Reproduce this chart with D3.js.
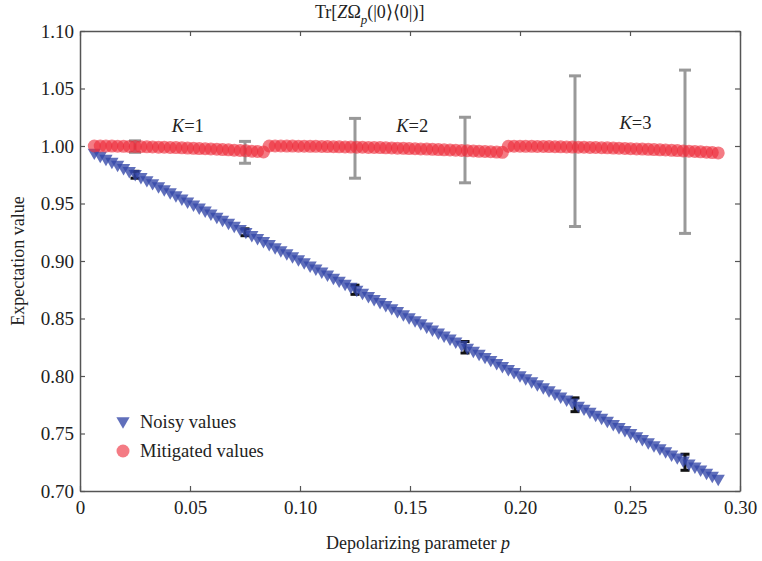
<!DOCTYPE html>
<html>
<head>
<meta charset="utf-8">
<script src="https://cdn.jsdelivr.net/npm/d3@7"></script>
<style>
  body { margin: 0; background: #fff; }
  text { font-family: "Liberation Serif", "Times New Roman", serif; fill: #222; }
</style>
</head>
<body>
<svg id="chart"></svg>
<script>
// depolarizing parameter p for every circuit
const pValues = [
  0.0065, 0.0092, 0.0118, 0.0145, 0.0171, 0.0198, 0.0224, 0.0251, 0.0277, 0.0304,
  0.0330, 0.0357, 0.0383, 0.0410, 0.0436, 0.0463, 0.0489, 0.0516, 0.0542, 0.0569,
  0.0595, 0.0622, 0.0648, 0.0675, 0.0701, 0.0728, 0.0754, 0.0781, 0.0807, 0.0834,
  0.0860, 0.0887, 0.0913, 0.0940, 0.0966, 0.0993, 0.1019, 0.1046, 0.1072, 0.1099,
  0.1125, 0.1152, 0.1178, 0.1205, 0.1231, 0.1258, 0.1284, 0.1311, 0.1337, 0.1364,
  0.1390, 0.1417, 0.1443, 0.1470, 0.1496, 0.1523, 0.1549, 0.1576, 0.1602, 0.1629,
  0.1655, 0.1682, 0.1708, 0.1735, 0.1761, 0.1788, 0.1814, 0.1841, 0.1867, 0.1894,
  0.1920, 0.1947, 0.1973, 0.2000, 0.2026, 0.2053, 0.2079, 0.2106, 0.2132, 0.2159,
  0.2185, 0.2212, 0.2238, 0.2265, 0.2291, 0.2318, 0.2344, 0.2371, 0.2397, 0.2424,
  0.2450, 0.2477, 0.2503, 0.2530, 0.2556, 0.2583, 0.2609, 0.2636, 0.2662, 0.2689,
  0.2715, 0.2742, 0.2768, 0.2795, 0.2821, 0.2848, 0.2874, 0.2901
];

const noisy = [
  0.9935, 0.9908, 0.9882, 0.9855, 0.9829, 0.9802, 0.9776, 0.9749, 0.9723, 0.9696,
  0.9670, 0.9643, 0.9617, 0.9590, 0.9564, 0.9537, 0.9511, 0.9484, 0.9458, 0.9431,
  0.9405, 0.9378, 0.9352, 0.9325, 0.9299, 0.9272, 0.9246, 0.9219, 0.9193, 0.9166,
  0.9140, 0.9113, 0.9087, 0.9060, 0.9034, 0.9007, 0.8981, 0.8954, 0.8928, 0.8901,
  0.8875, 0.8848, 0.8822, 0.8795, 0.8769, 0.8742, 0.8716, 0.8689, 0.8663, 0.8636,
  0.8610, 0.8583, 0.8557, 0.8530, 0.8504, 0.8477, 0.8451, 0.8424, 0.8398, 0.8371,
  0.8345, 0.8318, 0.8292, 0.8265, 0.8239, 0.8212, 0.8186, 0.8159, 0.8133, 0.8106,
  0.8080, 0.8053, 0.8027, 0.8000, 0.7974, 0.7947, 0.7921, 0.7894, 0.7868, 0.7841,
  0.7815, 0.7788, 0.7762, 0.7735, 0.7709, 0.7682, 0.7656, 0.7629, 0.7603, 0.7576,
  0.7550, 0.7523, 0.7497, 0.7470, 0.7444, 0.7417, 0.7391, 0.7364, 0.7338, 0.7311,
  0.7285, 0.7258, 0.7232, 0.7205, 0.7179, 0.7152, 0.7126, 0.7099
];

// mitigated values, K=1 | K=2 | K=3
const mitigated = [
  1.0000, 1.0000, 0.9999, 0.9999, 0.9998, 0.9997, 0.9996, 0.9995, 0.9994, 0.9993,
  0.9992, 0.9990, 0.9989, 0.9987, 0.9986, 0.9984, 0.9982, 0.9980, 0.9978, 0.9976,
  0.9974, 0.9972, 0.9969, 0.9967, 0.9964, 0.9961, 0.9958, 0.9955, 0.9952, 0.9948,

  1.0000, 1.0000, 1.0000, 0.9999, 0.9999, 0.9998, 0.9998, 0.9997, 0.9997, 0.9996,
  0.9995, 0.9994, 0.9993, 0.9992, 0.9991, 0.9990, 0.9989, 0.9988, 0.9987, 0.9986,
  0.9984, 0.9983, 0.9981, 0.9980, 0.9978, 0.9976, 0.9975, 0.9973, 0.9971, 0.9969,
  0.9967, 0.9965, 0.9963, 0.9961, 0.9959, 0.9957, 0.9954, 0.9952, 0.9950, 0.9947,
  0.9945,

  0.9998, 0.9998, 0.9998, 0.9997, 0.9997, 0.9996, 0.9996, 0.9995, 0.9994, 0.9993,
  0.9992, 0.9991, 0.9990, 0.9989, 0.9988, 0.9987, 0.9985, 0.9984, 0.9982, 0.9981,
  0.9979, 0.9977, 0.9975, 0.9973, 0.9971, 0.9969, 0.9967, 0.9965, 0.9962, 0.9960,
  0.9957, 0.9955, 0.9952, 0.9949, 0.9946, 0.9943, 0.9940
];

// error bars
const errP = [0.025, 0.075, 0.125, 0.175, 0.225, 0.275];
const noisyMean = [0.975, 0.925, 0.875, 0.825, 0.775, 0.725];
const noisyErr = [0.003, 0.003, 0.004, 0.005, 0.006, 0.007];
const mitMean = [0.9995, 0.9945, 0.998, 0.9965, 0.9955, 0.995];
const mitErr = [0.005, 0.0095, 0.026, 0.0285, 0.0655, 0.071];

const kLabels = ["1", "2", "3"];
const kPos = [[0.049, 1.0122], [0.151, 1.0122], [0.2525, 1.0148]];

const xTicks = [0, 0.05, 0.10, 0.15, 0.20, 0.25, 0.30];
const yTicks = [0.70, 0.75, 0.80, 0.85, 0.90, 0.95, 1.00, 1.05, 1.10];

const W = 762, H = 561;
const m = { left: 80, right: 22, top: 31, bottom: 70 };

const svg = d3.select('#chart').attr('width', W).attr('height', H);

const x = d3.scaleLinear().domain([0, 0.30]).range([m.left, W - m.right]);
const y = d3.scaleLinear().domain([0.70, 1.10]).range([H - m.bottom, m.top]);

const axisColor = '#555';
const fmtX = d => d === 0 ? '0' : d3.format('.2f')(d);

// axes, ticks pointing inward on all four sides
svg.append('g')
  .attr('transform', `translate(0,${H - m.bottom})`)
  .call(d3.axisBottom(x).tickValues(xTicks).tickFormat(fmtX).tickSizeInner(-5).tickSizeOuter(0).tickPadding(10))
  .attr('class', 'ax');
svg.append('g')
  .attr('transform', `translate(0,${m.top})`)
  .call(d3.axisTop(x).tickValues(xTicks).tickFormat('').tickSizeInner(-5).tickSizeOuter(0))
  .attr('class', 'ax');
svg.append('g')
  .attr('transform', `translate(${m.left},0)`)
  .call(d3.axisLeft(y).tickValues(yTicks).tickFormat(d3.format('.2f')).tickSizeInner(-5).tickSizeOuter(0).tickPadding(6))
  .attr('class', 'ax');
svg.append('g')
  .attr('transform', `translate(${W - m.right},0)`)
  .call(d3.axisRight(y).tickValues(yTicks).tickFormat('').tickSizeInner(-5).tickSizeOuter(0))
  .attr('class', 'ax');

svg.selectAll('.ax path').attr('stroke', axisColor).attr('stroke-width', 1.5);
svg.selectAll('.ax line').attr('stroke', axisColor).attr('stroke-width', 1.2);
svg.selectAll('.ax text')
  .style('font-family', '"Liberation Serif", serif')
  .style('font-size', '19px')
  .attr('fill', '#222');

// error bars
function errorBars(means, errs, color, width, cap) {
  const g = svg.append('g');
  errP.forEach((p, i) => {
    const lo = y(means[i] - errs[i]), hi = y(means[i] + errs[i]);
    g.append('line').attr('x1', x(p)).attr('x2', x(p)).attr('y1', lo).attr('y2', hi)
      .attr('stroke', color).attr('stroke-width', width);
    [lo, hi].forEach(v => g.append('line')
      .attr('x1', x(p) - cap / 2).attr('x2', x(p) + cap / 2).attr('y1', v).attr('y2', v)
      .attr('stroke', color).attr('stroke-width', width));
  });
}
errorBars(mitMean, mitErr, '#999', 3, 12);
errorBars(noisyMean, noisyErr, '#111', 3, 9);

const triangle = d3.symbol().type(d3.symbolTriangle).size(76);

svg.append('g').selectAll('path')
  .data(pValues)
  .enter()
  .append('path')
    .attr('d', triangle)
    .attr('transform', (d, i) => `translate(${x(d)},${y(noisy[i]) - 1}) rotate(180)`)
    .attr('fill', '#3347a8')
    .attr('fill-opacity', 0.78);

svg.append('g').selectAll('circle')
  .data(pValues)
  .enter()
  .append('circle')
    .attr('cx', d => x(d))
    .attr('cy', (d, i) => y(mitigated[i]))
    .attr('r', 6.5)
    .attr('fill', '#ee2a38')
    .attr('fill-opacity', 0.62);

// K labels
kLabels.forEach((k, i) => {
  const t = svg.append('text')
    .attr('x', x(kPos[i][0])).attr('y', y(kPos[i][1]))
    .attr('text-anchor', 'middle')
    .style('font-size', '18.5px');
  t.append('tspan').style('font-style', 'italic').text('K');
  t.append('tspan').text('=' + k);
});

// title
const title = svg.append('text')
  .attr('x', 315).attr('y', 18)
  .style('font-size', '18px');
title.append('tspan').text('Tr[');
title.append('tspan').style('font-style', 'italic').text('Z');
title.append('tspan').text('Ω');
title.append('tspan').style('font-style', 'italic').style('font-size', '13px').attr('dy', 6).text('p');
title.append('tspan').attr('dy', -6).text('(|0⟩⟨0|)]');

// axis titles
const xl = svg.append('text')
  .attr('x', 418).attr('y', 549)
  .attr('text-anchor', 'middle')
  .style('font-size', '18px');
xl.append('tspan').text('Depolarizing parameter ');
xl.append('tspan').style('font-style', 'italic').text('p');

svg.append('text')
  .attr('transform', `translate(24,${(m.top + H - m.bottom) / 2}) rotate(-90)`)
  .attr('text-anchor', 'middle')
  .style('font-size', '18px')
  .text('Expectation value');

// legend
const legend = svg.append('g').attr('transform', 'translate(123,422)');
legend.append('path')
  .attr('d', triangle)
  .attr('transform', 'translate(0,-1) rotate(180)')
  .attr('fill', '#3347a8').attr('fill-opacity', 0.78);
legend.append('text').attr('x', 17).attr('y', 6).style('font-size', '18.5px').text('Noisy values');
legend.append('circle').attr('cx', 0).attr('cy', 29).attr('r', 6.5)
  .attr('fill', '#ee2a38').attr('fill-opacity', 0.62);
legend.append('text').attr('x', 17).attr('y', 35).style('font-size', '18.5px').text('Mitigated values');
</script>
</body>
</html>
